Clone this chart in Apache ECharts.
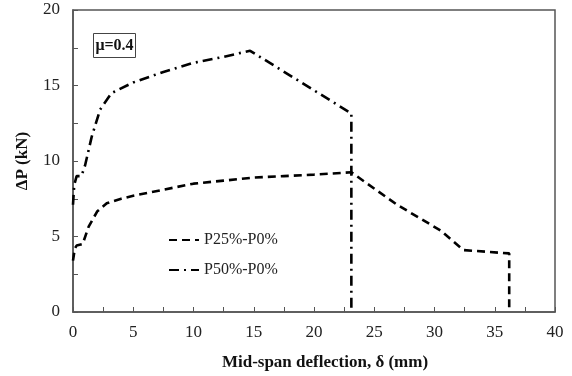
<!DOCTYPE html>
<html><head><meta charset="utf-8">
<script src="https://cdn.jsdelivr.net/npm/echarts@6/dist/echarts.min.js"></script>
<style>html,body{margin:0;padding:0;background:#fff}#c{width:572px;height:376px}</style>
</head><body><div id="c"></div>
<script>
var xTitle = 'Mid-span deflection, δ (mm)';
var yTitle = 'ΔP (kN)';
var boxLabel = 'μ=0.4';
var seriesNames = ['P25%-P0%', 'P50%-P0%'];
var p25X = [0, 0.15, 0.3, 0.8, 1.3, 2.0, 2.8, 4.0, 5.0, 7.5, 10, 12.5, 15, 17.5, 20, 23.1, 26.9, 30.5, 32.4, 36.2, 36.2];
var p25Y = [3.4, 4.2, 4.4, 4.5, 5.65, 6.65, 7.2, 7.5, 7.7, 8.1, 8.5, 8.7, 8.9, 9.0, 9.1, 9.25, 7.1, 5.4, 4.1, 3.88, 0];
var p50X = [0, 0.1, 0.3, 0.7, 1.0, 1.55, 2.25, 3.2, 5, 7.5, 10, 12.5, 14.7, 23.1, 23.1];
var p50Y = [7.1, 8.4, 9.0, 9.0, 9.7, 11.6, 13.4, 14.5, 15.2, 15.9, 16.5, 16.9, 17.3, 13.15, 0];

function pairs(xs, ys){ return xs.map(function(x,i){return [x, ys[i]];}); }
var serif = '"Liberation Serif", "Times New Roman", serif';
var axisCol = '#555';
var chart = echarts.init(document.getElementById('c'), null, {renderer:'canvas'});
chart.setOption({
  animation:false,
  grid:{left:73,right:17,top:10,bottom:64,show:true,borderColor:axisCol,borderWidth:1.5},
  xAxis:{type:'value',min:0,max:40,interval:5,
    name:xTitle,nameLocation:'middle',nameGap:42,
    nameTextStyle:{fontFamily:serif,fontWeight:'bold',fontSize:17,color:'#111',padding:[0,0,0,22]},
    axisLine:{lineStyle:{color:axisCol,width:1.5}},
    axisTick:{inside:true,length:5,lineStyle:{color:axisCol}},
    minorTick:{show:true,splitNumber:2,length:5,lineStyle:{color:axisCol}},
    splitLine:{show:false},
    axisLabel:{fontFamily:serif,fontSize:17,color:'#222',margin:12}},
  yAxis:{type:'value',min:0,max:20,interval:5,
    name:yTitle,nameLocation:'middle',nameGap:42,nameRotate:90,
    nameTextStyle:{fontFamily:serif,fontWeight:'bold',fontSize:17,color:'#111'},
    axisLine:{show:true,lineStyle:{color:axisCol,width:1.5}},
    axisTick:{show:true,inside:true,length:5,lineStyle:{color:axisCol}},
    minorTick:{show:true,splitNumber:2,length:5,lineStyle:{color:axisCol}},
    splitLine:{show:false},
    axisLabel:{fontFamily:serif,fontSize:17,color:'#222',margin:13}},
  legend:{orient:'vertical',left:163,top:227,itemWidth:30,itemHeight:10,itemGap:14,
    itemStyle:{opacity:0},
    textStyle:{fontFamily:serif,fontSize:16,color:'#222'},
    data:seriesNames},
  graphic:[{type:'group',left:93,top:33,children:[
    {type:'rect',shape:{x:0,y:0,width:42,height:24},style:{fill:'#fff',stroke:'#444',lineWidth:1}},
    {type:'text',x:21,y:12,style:{text:boxLabel,fontFamily:serif,fontWeight:'bold',fontSize:16,fill:'#111',align:'center',verticalAlign:'middle'}}
  ]}],
  series:[
    {name:seriesNames[0],type:'line',data:pairs(p25X,p25Y),showSymbol:false,symbol:'none',
      lineStyle:{color:'#000',width:2.6,type:[8,5]},itemStyle:{color:'#000'}},
    {name:seriesNames[1],type:'line',data:pairs(p50X,p50Y),showSymbol:false,symbol:'none',
      lineStyle:{color:'#000',width:2.6,type:[10,5,2,5]},itemStyle:{color:'#000'}}
  ]
});
</script></body></html>
